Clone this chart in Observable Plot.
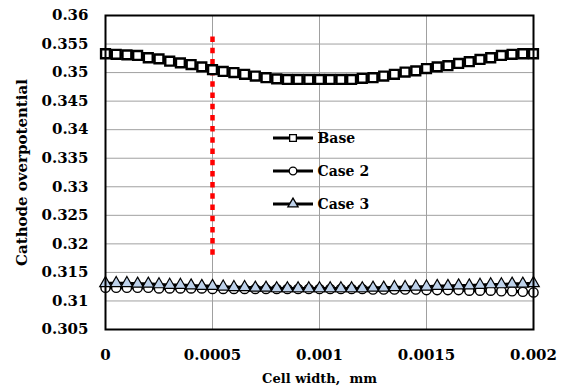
<!DOCTYPE html>
<html>
<head>
<meta charset="utf-8">
<script src="https://cdn.jsdelivr.net/npm/d3@7"></script>
<script src="https://cdn.jsdelivr.net/npm/@observablehq/plot@0.6"></script>
<style>
  html, body { margin: 0; padding: 0; background: #fff; }
</style>
</head>
<body>
<div id="chart"></div>
<script>
// Cell width positions (mm)
const cellWidth = [
  0, 0.00005, 0.0001, 0.00015, 0.0002, 0.00025, 0.0003, 0.00035, 0.0004, 0.00045,
  0.0005, 0.00055, 0.0006, 0.00065, 0.0007, 0.00075, 0.0008, 0.00085, 0.0009, 0.00095,
  0.001, 0.00105, 0.0011, 0.00115, 0.0012, 0.00125, 0.0013, 0.00135, 0.0014, 0.00145,
  0.0015, 0.00155, 0.0016, 0.00165, 0.0017, 0.00175, 0.0018, 0.00185, 0.0019, 0.00195,
  0.002
];
const baseValues = [
  0.3533, 0.3532, 0.3531, 0.3530, 0.3526, 0.3524, 0.3520, 0.3517, 0.3514, 0.3510,
  0.3505, 0.3502, 0.3500, 0.3497, 0.3494, 0.3491, 0.3489, 0.3488, 0.3488, 0.3488,
  0.3488, 0.3488, 0.3488, 0.3488, 0.3490, 0.3491, 0.3494, 0.3497, 0.3501, 0.3503,
  0.3507, 0.3510, 0.3512, 0.3516, 0.3519, 0.3523, 0.3526, 0.3530, 0.3532, 0.3533,
  0.3533
];
const case2Values = [
  0.3123, 0.3123, 0.3123, 0.3123, 0.3123, 0.3122, 0.3122, 0.3122, 0.3122, 0.3122,
  0.3121, 0.3121, 0.3121, 0.3121, 0.3121, 0.3121, 0.3121, 0.3121, 0.3121, 0.3121,
  0.3121, 0.3121, 0.3121, 0.3121, 0.3121, 0.3120, 0.3120, 0.3120, 0.3120, 0.3120,
  0.3119, 0.3119, 0.3119, 0.3119, 0.3118, 0.3118, 0.3118, 0.3117, 0.3117, 0.3116,
  0.3115
];
const case3Values = [
  0.3131, 0.3131, 0.3131, 0.3130, 0.3130, 0.3129, 0.3128, 0.3128, 0.3127, 0.3126,
  0.3126, 0.3125, 0.3124, 0.3124, 0.3123, 0.3123, 0.3122, 0.3122, 0.3122, 0.3122,
  0.3122, 0.3122, 0.3122, 0.3122, 0.3122, 0.3123, 0.3123, 0.3124, 0.3124, 0.3125,
  0.3125, 0.3126, 0.3126, 0.3127, 0.3127, 0.3128, 0.3129, 0.3129, 0.3130, 0.3130,
  0.3131
];
const seriesNames = ["Base", "Case 2", "Case 3"];

// Red dotted reference line
const refLineX = [0.0005];
const refLineY = [0.3180, 0.3565];

// Axis ticks
const xTicks = [0, 0.0005, 0.001, 0.0015, 0.002];
const xTickLabels = ["0", "0.0005", "0.001", "0.0015", "0.002"];
const yTicks = [0.305, 0.31, 0.315, 0.32, 0.325, 0.33, 0.335, 0.34, 0.345, 0.35, 0.355, 0.36];
const yTickLabels = ["0.305", "0.31", "0.315", "0.32", "0.325", "0.33", "0.335", "0.34", "0.345", "0.35", "0.355", "0.36"];
const xTitle = "Cell width,  mm";
const yTitle = "Cathode overpotential";

const seriesStyle = [
  {symbol: "square", r: 5, fill: "#fff", stroke: "#000", strokeWidth: 2.4},
  {symbol: "circle", r: 4.6, fill: "#fff", stroke: "#000", strokeWidth: 1.4},
  {symbol: "triangle", r: 4.3, fill: "#bdd1ea", stroke: "#000", strokeWidth: 1.2}
];
const seriesValues = [baseValues, case2Values, case3Values];
const data = seriesNames.map((name, s) =>
  cellWidth.map((x, i) => ({series: name, x, y: seriesValues[s][i]}))
);

const xLab = new Map(xTicks.map((t, i) => [t, xTickLabels[i]]));
const yLab = new Map(yTicks.map((t, i) => [t, yTickLabels[i]]));

const symbolMap = {square: d3.symbolSquare, circle: d3.symbolCircle, triangle: d3.symbolTriangle};

const legendMarks = (index, scales, values, dims) => {
  const g = d3.create("svg:g");
  seriesNames.forEach((name, i) => {
    const cy = dims.marginTop + 123 + 33 * i;
    const x0 = dims.marginLeft + 168;
    g.append("line")
      .attr("x1", x0).attr("x2", x0 + 40)
      .attr("y1", cy).attr("y2", cy)
      .attr("stroke", "#000").attr("stroke-width", 3);
    const st = seriesStyle[i];
    const r = 3.8;
    g.append("path")
      .attr("transform", `translate(${x0 + 20},${cy})`)
      .attr("d", d3.symbol(symbolMap[st.symbol], Math.PI * r * r)())
      .attr("fill", st.fill).attr("stroke", st.stroke).attr("stroke-width", 1.3);
  });
  return g.node();
};

const marks = [
  Plot.ruleX(xTicks, {stroke: "#a0a0a0", strokeWidth: 1}),
  Plot.ruleY(yTicks, {stroke: "#a0a0a0", strokeWidth: 1}),
  Plot.ruleX(refLineX, {y1: refLineY[0], y2: refLineY[1], stroke: "#ff0000", strokeWidth: 4.5, strokeDasharray: "5.5,5.7"})
];
data.forEach((d, s) => {
  const st = seriesStyle[s];
  marks.push(Plot.line(d, {x: "x", y: "y", stroke: "#000", strokeWidth: 3}));
  marks.push(Plot.dot(d, {x: "x", y: "y", symbol: () => st.symbol, r: st.r, fill: st.fill, stroke: st.stroke, strokeWidth: st.strokeWidth}));
});
marks.push(Plot.frame({stroke: "#000", strokeWidth: 2}));
marks.push(legendMarks);
seriesNames.forEach((name, i) => {
  marks.push(Plot.text([name], {frameAnchor: "top-left", dx: 212, dy: 123 + 33 * i, text: d => d, textAnchor: "start", lineAnchor: "middle", fontSize: 14, fill: "#000"}));
});
marks.push(Plot.text([xTitle], {frameAnchor: "bottom", dy: 49, text: d => d, textAnchor: "middle", lineAnchor: "middle", fontSize: 13, fill: "#000"}));
marks.push(Plot.text([yTitle], {frameAnchor: "left", dx: -83, rotate: -90, text: d => d, textAnchor: "middle", lineAnchor: "middle", fontSize: 15, fill: "#000"}));

const chart = Plot.plot({
  width: 565,
  height: 392,
  marginLeft: 105,
  marginRight: 32,
  marginTop: 15,
  marginBottom: 63,
  style: {fontFamily: "'DejaVu Serif', serif", fontWeight: "bold", fontSize: "15px", color: "#000", background: "#fff"},
  x: {domain: [0, 0.002], ticks: xTicks, tickFormat: d => xLab.get(d), tickSize: 0, tickPadding: 20, label: null},
  y: {domain: [0.305, 0.36], ticks: yTicks, tickFormat: d => yLab.get(d), tickSize: 0, tickPadding: 17, label: null},
  symbol: {type: "identity"},
  marks
});
document.getElementById("chart").appendChild(chart);
</script>
</body>
</html>
